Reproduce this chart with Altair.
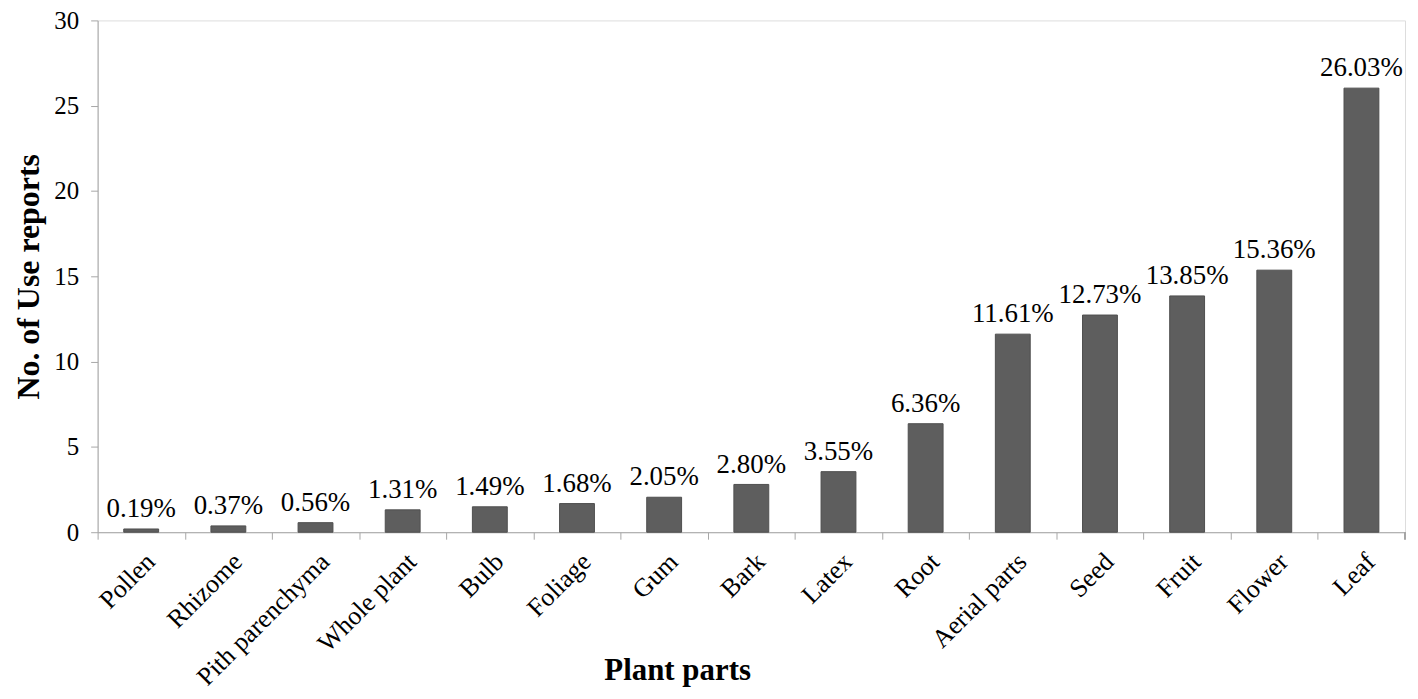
import altair as alt
import pandas as pd

parts = ["Pollen", "Rhizome", "Pith parenchyma", "Whole plant", "Bulb", "Foliage",
         "Gum", "Bark", "Latex", "Root", "Aerial parts", "Seed", "Fruit", "Flower", "Leaf"]
values = [0.19, 0.37, 0.56, 1.31, 1.49, 1.68, 2.05, 2.80, 3.55, 6.36, 11.61, 12.73, 13.85, 15.36, 26.03]

df = pd.DataFrame({"part": parts, "value": values})

W = 1313
H = 514
TOP = 11
STEP = W / len(parts)
FONT = "Liberation Serif"

xenc = alt.X("part:N", sort=parts, title="Plant parts",
             scale=alt.Scale(paddingInner=0.6, paddingOuter=0.3),
             axis=alt.Axis(labelAngle=-45, labelFontSize=26, labelFont=FONT, labelColor="black",
                           tickOffset=-STEP / 2, labelOffset=STEP / 2, tickSize=7, tickColor="#a6a6a6",
                           domainColor="#a6a6a6", labelPadding=9,
                           titleFont=FONT, titleFontSize=31, titleFontWeight="bold", titleColor="black",
                           titleX=582, titleY=148, titleBaseline="alphabetic"))
yenc = alt.Y("value:Q", title="No. of Use reports",
             scale=alt.Scale(domain=[0, 30]),
             axis=alt.Axis(values=[0, 5, 10, 15, 20, 25, 30], grid=False, tickSize=7,
                           tickColor="#a6a6a6", domainColor="#a6a6a6",
                           labelFontSize=25, labelFont=FONT, labelColor="black", labelPadding=12,
                           titleFont=FONT, titleFontSize=32, titleFontWeight="bold", titleColor="black",
                           titlePadding=8))

bars = alt.Chart(df).mark_bar(color="#5e5e5e", stroke="#4f4f4f", strokeWidth=1).encode(x=xenc, y=yenc)

text = alt.Chart(df).transform_calculate(
    label="format(datum.value, '.2f') + '%'"
).mark_text(font=FONT, fontSize=27, baseline="bottom", dy=-6, color="black").encode(
    x=alt.X("part:N", sort=parts), y="value:Q", text="label:N")

endtick = alt.Chart(df).mark_rule(color="#a6a6a6").encode(
    x=alt.value(W), y=alt.value(H), y2=alt.value(H + 7))

chart = alt.layer(bars, text, endtick).properties(
    width=W, height=H,
    padding={"left": 90, "top": TOP, "right": 5, "bottom": 683 - TOP - H},
    autosize=alt.AutoSizeParams(type="none"),
).configure_view(stroke=None).configure(background="white")

chart.save("out.html", embed_options={"renderer": "svg", "actions": False})
